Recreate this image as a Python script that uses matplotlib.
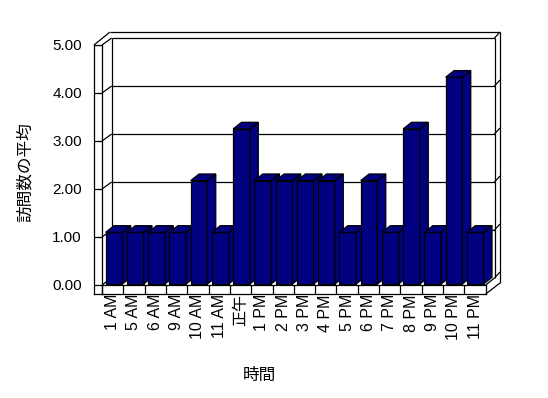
import matplotlib
matplotlib.use("Agg")
import matplotlib.pyplot as plt
from matplotlib.patches import Polygon

hours = ["1 AM", "5 AM", "6 AM", "9 AM", "10 AM", "11 AM", "正午", "1 PM", "2 PM",
         "3 PM", "4 PM", "5 PM", "6 PM", "7 PM", "8 PM", "9 PM", "10 PM", "11 PM"]
avg_visits = [1, 1, 1, 1, 2, 1, 3, 2, 2, 2, 2, 1, 2, 1, 3, 1, 4, 1]
y_ticks = [0, 1, 2, 3, 4, 5]

W, H = 548, 398
plt.rcParams["font.family"] = ["Liberation Sans", "Noto Sans CJK JP"]
lw = 0.9
navy = "#000080"

fig = plt.figure(figsize=(W / 100, H / 100), dpi=100)


def rect(l, t, r, b):
    # pixel box -> figure fraction
    return [l / W, 1 - b / H, (r - l) / W, (b - t) / H]


# walls drawn in pixel coordinates (fake 3d box)
frame = fig.add_axes([0, 0, 1, 1])
frame.set_xlim(0, W)
frame.set_ylim(H, 0)
frame.axis("off")


def line(x0, y0, x1, y1):
    frame.plot([x0, x1], [y0, y1], color="black", lw=lw, solid_capstyle="butt")


def y_front(v):
    return 285 - 48 * v


def y_back(v):
    return 278 - 48 * v


bx0, bx1 = 111.7, 494.5
for v in y_ticks:
    line(102, y_front(v), bx0, y_back(v))
    line(bx1, y_back(v), 500, y_back(v) - 6)
    if 0 < v < 5:
        line(bx0, y_back(v), bx1, y_back(v))
line(bx0, y_back(5), bx1, y_back(5))
line(bx0, y_back(5), bx0, y_back(0))
line(bx1, y_back(5), bx1, y_back(0))
line(110, y_back(5) - 6, 500, y_back(5) - 6)
line(94, 45, 110, y_back(5) - 6)
line(500, y_back(5) - 6, 500, 283)
line(485.7, 285, bx1, y_back(0))
line(485.7, 294, 500, 283)

# bars
axb = fig.add_axes(rect(103.4, 284 - 5 * 51.7, 103.4 + 382.5, 284))
axb.set_xlim(-0.5, len(hours) - 0.5)
axb.set_ylim(0, 5)
axb.axis("off")
bw, dx, dy = 0.786, 0.395, 0.128
xs = list(range(len(hours)))
bars = axb.bar(xs, avg_visits, width=bw, color=navy, edgecolor="black", linewidth=lw)
for i, (b, v) in enumerate(zip(bars, avg_visits)):
    b.set_zorder(3 + 3 * i)
    b.set_clip_on(False)
    l, r = i - bw / 2, i + bw / 2
    side = Polygon([(r, 0), (r + dx, dy), (r + dx, v + dy), (r, v)], closed=True,
                   facecolor=navy, edgecolor="black", lw=lw, zorder=4 + 3 * i, clip_on=False)
    top = Polygon([(l, v), (r, v), (r + dx, v + dy), (l + dx, v + dy)], closed=True,
                  facecolor=navy, edgecolor="black", lw=lw, zorder=5 + 3 * i, clip_on=False)
    axb.add_patch(side)
    axb.add_patch(top)

# floor front face with category labels
axf = fig.add_axes(rect(102, 285, 485.7, 294))
axf.set_xlim(-0.5, len(hours) - 0.5)
axf.set_ylim(0, 1)
axf.set_yticks([])
axf.set_xticks(xs)
axf.set_xticklabels(hours, rotation=90, fontsize=11.5)
axf.tick_params(axis="x", length=0, pad=0)
axf.vlines([i + 0.5 for i in xs[:-1]], 0, 1, colors="black", lw=lw)
for s in axf.spines.values():
    s.set_linewidth(lw)
axf.patch.set_alpha(0)

# left wall front face with value axis
axl = fig.add_axes(rect(94, 45, 102, 294))
axl.set_xlim(0, 1)
axl.set_ylim(-9 / 48, 5)
axl.set_xticks([])
axl.set_yticks(y_ticks)
axl.set_yticklabels(["%.2f" % t for t in y_ticks], fontsize=11)
axl.tick_params(axis="y", length=0, pad=8.8)
axl.hlines(y_ticks, 0, 1, colors="black", lw=lw)
for s in axl.spines.values():
    s.set_linewidth(lw)
axl.patch.set_alpha(0)

fig.text(25 / W, 1 - 172 / H, "訪問数の平均", rotation=90, ha="center", va="center", fontsize=12)
fig.text(259 / W, 1 - 375 / H, "時間", ha="center", va="center", fontsize=12)

fig.savefig("out.png", dpi=100)
